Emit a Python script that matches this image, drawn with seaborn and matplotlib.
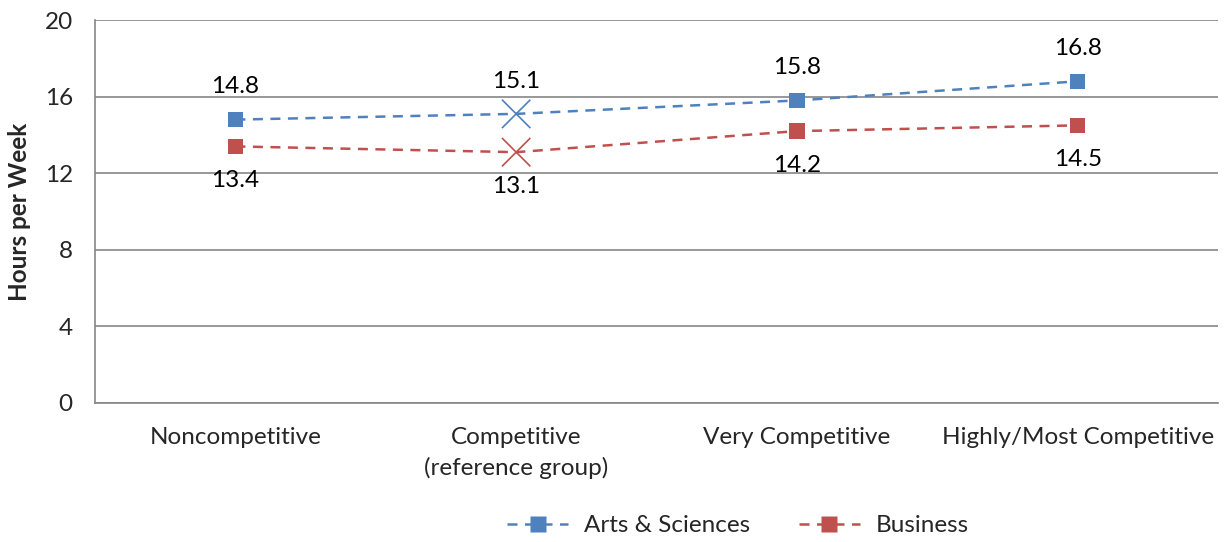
import matplotlib
matplotlib.use("Agg")
import matplotlib.pyplot as plt
from matplotlib.lines import Line2D
import seaborn as sns
import pandas as pd

categories = ["Noncompetitive", "Competitive\n(reference group)", "Very Competitive", "Highly/Most Competitive"]
arts_sciences = [14.8, 15.1, 15.8, 16.8]
business = [13.4, 13.1, 14.2, 14.5]
reference_index = 1
y_ticks = [0, 4, 8, 12, 16, 20]

sns.set_theme(style="white")
plt.rcParams["font.family"] = ["Lato", "DejaVu Sans"]

blue = "#4F81BD"
red = "#C0504D"
grey = "#868686"
fs = 17.5

df = pd.DataFrame({
    "pos": list(range(len(categories))) * 2,
    "hours": arts_sciences + business,
    "series": ["Arts & Sciences"] * len(categories) + ["Business"] * len(categories),
})
df["is_ref"] = df["pos"] == reference_index

fig = plt.figure(figsize=(12.28, 5.42), dpi=100)
ax = fig.add_axes([0.0774, 0.2565, 0.9145, 0.7065])

palette = {"Arts & Sciences": blue, "Business": red}
sns.lineplot(data=df, x="pos", y="hours", hue="series", palette=palette,
             ax=ax, legend=False, linewidth=1.8, sort=False)
for line in ax.get_lines():
    line.set_dashes((4, 3))

sns.scatterplot(data=df[~df["is_ref"]], x="pos", y="hours", hue="series",
                palette=palette, marker="s", s=120, edgecolor="none",
                ax=ax, legend=False, zorder=4)
sns.scatterplot(data=df[df["is_ref"]], x="pos", y="hours", hue="series",
                palette=palette, marker="x", s=420, linewidth=1.2,
                ax=ax, legend=False, zorder=4)

for i, (a, b) in enumerate(zip(arts_sciences, business)):
    ax.annotate(f"{a:.1f}", (i, a), xytext=(0, 16), textcoords="offset points",
                ha="center", va="bottom", fontsize=fs, color="black")
    ax.annotate(f"{b:.1f}", (i, b), xytext=(0, -17), textcoords="offset points",
                ha="center", va="top", fontsize=fs, color="black")

ax.set_xlim(-0.5, len(categories) - 0.5)
ax.set_ylim(0, 20)
ax.set_yticks(y_ticks)
ax.set_yticklabels([str(t) for t in y_ticks], fontsize=fs)
ax.set_xticks(range(len(categories)))
ax.set_xticklabels(categories, fontsize=fs, linespacing=1.5)
ax.tick_params(axis="x", length=0, pad=17)
ax.set_xticks([i - 0.5 for i in range(len(categories) + 1)], minor=True)
ax.tick_params(axis="x", which="minor", length=7, color=grey, width=1.2, direction="out")
ax.tick_params(axis="y", length=8, color=grey, width=1.2, direction="out", pad=8)
ax.set_xlabel("")
ax.set_ylabel("Hours per Week", fontsize=fs, fontweight="bold", labelpad=10)

ax.grid(axis="y", color=grey, linewidth=1.2)
ax.set_axisbelow(True)
for side in ["top", "right"]:
    ax.spines[side].set_visible(False)
for side in ["left", "bottom"]:
    ax.spines[side].set_color(grey)
    ax.spines[side].set_linewidth(1.2)

handles = [
    Line2D([], [], color=c, linestyle=(0, (4, 3)), linewidth=1.8, marker="s",
           markersize=11, markeredgecolor="none", label=lab)
    for lab, c in [("Arts & Sciences", blue), ("Business", red)]
]
fig.legend(handles=handles, loc="center", bbox_to_anchor=(0.601, 0.03), ncol=2,
           frameon=False, fontsize=fs, handlelength=2.5, columnspacing=2.0,
           handletextpad=0.66)

fig.savefig("out.png", dpi=100)
